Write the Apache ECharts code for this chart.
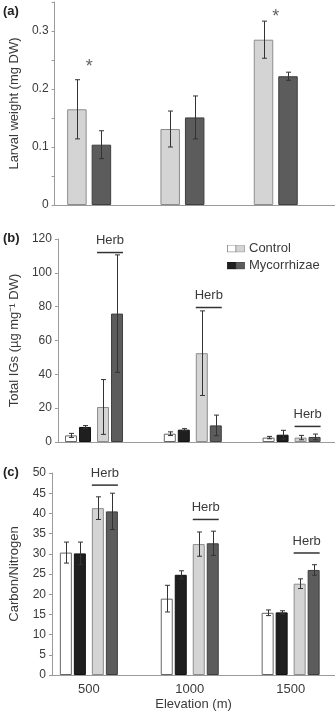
<!DOCTYPE html>
<html>
<head>
<meta charset="utf-8">
<script src="https://cdn.jsdelivr.net/npm/echarts@6/dist/echarts.min.js"></script>
<style>
html,body{margin:0;padding:0;background:#fff;}
#chart{width:335px;height:712px;}
</style>
</head>
<body>
<div id="chart"></div>
<script>
// ---------- data ----------
const elevations = [500, 1000, 1500];
const elevationTicks = [500, 1000, 1500];

// (a) Larval weight (mg DW), herbivory plants
const larvalControl = [0.165, 0.131, 0.285];
const larvalControlErr = [0.051, 0.031, 0.032];
const larvalMyco = [0.104, 0.151, 0.222];
const larvalMycoErr = [0.024, 0.037, 0.007];
const larvalStarX = [500, 1500];
const larvalStarY = [0.247, 0.333];

// (b) Total IGs (µg mg-1 DW)
const igControl = [3.9, 4.9, 2.6];
const igControlErr = [1.2, 1.1, 0.7];
const igMyco = [8.9, 7.3, 4.3];
const igMycoErr = [0.8, 0.6, 2.6];
const igControlHerb = [20.7, 52.5, 2.6];
const igControlHerbErr = [16.2, 25.0, 1.3];
const igMycoHerb = [75.9, 9.8, 3.0];
const igMycoHerbErr = [34.7, 6.1, 1.7];
const igHerbLevel = [112, 79.5, 9.2];

// (c) Carbon/Nitrogen
const cnControl = [30.3, 18.9, 15.4];
const cnControlErr = [2.6, 3.3, 0.7];
const cnMyco = [30.1, 24.8, 15.5];
const cnMycoErr = [2.8, 1.0, 0.4];
const cnControlHerb = [41.3, 32.4, 22.6];
const cnControlHerbErr = [2.8, 3.0, 1.2];
const cnMycoHerb = [40.5, 32.6, 26.0];
const cnMycoHerbErr = [4.5, 3.0, 1.3];
const cnHerbLevel = [47.0, 38.5, 30.2];

// ---------- styles ----------
const FONT = 'Liberation Sans, Arial, sans-serif';
const TXT = '#3a3a3a';
const AXIS = '#9a9a9a';
const styWhite = {color:'#ffffff', borderColor:'#666', borderWidth:1};
const styBlack = {color:'#1f1f1f', borderColor:'#111', borderWidth:1};
const styLight = {color:'#d4d4d4', borderColor:'#8c8c8c', borderWidth:1};
const styDark  = {color:'#5c5c5c', borderColor:'#3e3e3e', borderWidth:1};

// bar layout (mirrors ECharts column layout)
function layoutOffsets(widths, gapPct){
  let sum = 0;
  widths.forEach(w => sum += w*(1+gapPct));
  sum -= widths[widths.length-1]*gapPct;
  let off = -sum/2;
  return widths.map(w => { const c = {start:off, center:off+w/2, end:off+w}; off += w*(1+gapPct); return c; });
}
const WA = 19.5, GA = 5/19.5;
const offA = layoutOffsets([WA, WA], GA);
const WB = 12, GB = 1/6, SP = 24/7;
const offB = layoutOffsets([WB, WB, SP, WB, WB], GB);

const pairs = (vals) => elevations.map((e,i)=>[e, vals[i]]);
const triples = (vals, errs) => elevations.map((e,i)=>[e, vals[i], errs[i]]);

function errSeries(gi, vals, errs, offset){
  return {
    type:'custom', xAxisIndex:gi, yAxisIndex:gi, z:5, silent:true,
    data: triples(vals, errs),
    renderItem(params, api){
      const x = api.value(0), v = api.value(1), e = api.value(2);
      const t = api.coord([x, v+e]), b = api.coord([x, v-e]);
      const cx = Math.round(t[0] + offset) + 0.5;
      const s = {stroke:'#333', lineWidth:1};
      return {type:'group', children:[
        {type:'line', shape:{x1:cx, y1:t[1], x2:cx, y2:b[1]}, style:s},
        {type:'line', shape:{x1:cx-2.5, y1:t[1], x2:cx+2.5, y2:t[1]}, style:s},
        {type:'line', shape:{x1:cx-2.5, y1:b[1], x2:cx+2.5, y2:b[1]}, style:s}
      ]};
    }
  };
}
function herbSeries(gi, levels){
  return {
    type:'custom', xAxisIndex:gi, yAxisIndex:gi, z:6, silent:true,
    data: pairs(levels),
    renderItem(params, api){
      const p = api.coord([api.value(0), api.value(1)]);
      const x1 = p[0] + offB[3].start, x2 = p[0] + offB[4].end;
      return {type:'group', children:[
        {type:'line', shape:{x1:x1, y1:p[1], x2:x2, y2:p[1]}, style:{stroke:'#333', lineWidth:1.5}},
        {type:'text', x:(x1+x2)/2, y:p[1]-12, style:{text:'Herb', fill:TXT, font:'13px '+FONT, align:'center', verticalAlign:'middle'}}
      ]};
    }
  };
}
function barSeries(name, gi, data, sty, w, gap){
  return {type:'bar', name, xAxisIndex:gi, yAxisIndex:gi, data, barWidth:w, barGap:(gap*100)+'%', itemStyle:sty, silent:true, z:3};
}

function svgIcon(c1, s1, c2, s2){
  const svg = '<svg xmlns="http://www.w3.org/2000/svg" width="36" height="16">'+
    '<rect x="1" y="1" width="17" height="14" fill="'+c1+'" stroke="'+s1+'" stroke-width="1.5"/>'+
    '<rect x="18" y="1" width="17" height="14" fill="'+c2+'" stroke="'+s2+'" stroke-width="1.5"/></svg>';
  return 'image://data:image/svg+xml;charset=utf-8,' + encodeURIComponent(svg);
}

const grids = [
  {left:51, right:0, top:2, height:203},
  {left:51, right:0, top:239, height:203},
  {left:51, right:0, top:473, height:203}
];
const axisLineStyle = {show:true, lineStyle:{color:AXIS, width:1}};
function yAxis(gi, max, interval, name, fmt){
  return {type:'value', gridIndex:gi, min:0, max, interval,
    name, nameLocation:'middle', nameGap:31,
    nameTextStyle:{color:TXT, fontSize:13, fontFamily:FONT},
    axisLine:axisLineStyle, axisTick:{show:true, length:3, lineStyle:{color:AXIS}},
    axisLabel:{color:TXT, fontSize:12, fontFamily:FONT, margin:6, formatter:fmt},
    splitLine:{show:false}};
}
const xAxes = [
  {type:'value', gridIndex:0, min:314.8, max:1817.5, axisLine:axisLineStyle, axisTick:{show:false}, axisLabel:{show:false}, splitLine:{show:false}},
  {type:'value', gridIndex:1, min:317.3, max:1719.8, axisLine:axisLineStyle, axisTick:{show:false}, axisLabel:{show:false}, splitLine:{show:false}},
  {type:'value', gridIndex:2, min:317.3, max:1719.8, axisLine:axisLineStyle, axisTick:{show:false},
    axisLabel:{show:true, customValues:elevationTicks, formatter:v => String(Math.round(v)), color:TXT, fontSize:13, fontFamily:FONT, margin:8},
    splitLine:{show:false},
    name:'Elevation (m)', nameLocation:'middle', nameGap:23, nameTextStyle:{color:TXT, fontSize:13, fontFamily:FONT}}
];
const yAxes = [
  yAxis(0, 0.35, 0.05, 'Larval weight (mg DW)', v => {
    const k = v*10; if (Math.abs(k-Math.round(k))>1e-6 || v>0.31) return '';
    return v===0 ? '0' : (Math.round(k)/10).toFixed(1);
  }),
  yAxis(1, 120, 20, 'Total IGs (µg mg⁻¹ DW)', v => String(Math.round(v))),
  yAxis(2, 50, 5, 'Carbon/Nitrogen', v => String(Math.round(v)))
];

const series = [
  // (a)
  barSeries('Control (herbivory, a)', 0, pairs(larvalControl), styLight, WA, GA),
  barSeries('Mycorrhizae (herbivory, a)', 0, pairs(larvalMyco), styDark, WA, GA),
  errSeries(0, larvalControl, larvalControlErr, offA[0].center),
  errSeries(0, larvalMyco, larvalMycoErr, offA[1].center),
  {type:'scatter', xAxisIndex:0, yAxisIndex:0, symbolSize:0, silent:true, z:6,
   data: larvalStarX.map((x,i)=>[x, larvalStarY[i]]),
   label:{show:true, position:'inside', formatter:'*', color:TXT, fontSize:18, fontFamily:FONT, offset:[0,5]}},
  // (b)
  barSeries('Control', 1, pairs(igControl), styWhite, WB, GB),
  barSeries('Mycorrhizae', 1, pairs(igMyco), styBlack, WB, GB),
  barSeries('spacer b', 1, [], styWhite, SP, GB),
  barSeries('Control (herbivory)', 1, pairs(igControlHerb), styLight, WB, GB),
  barSeries('Mycorrhizae (herbivory)', 1, pairs(igMycoHerb), styDark, WB, GB),
  errSeries(1, igControl, igControlErr, offB[0].center),
  errSeries(1, igMyco, igMycoErr, offB[1].center),
  errSeries(1, igControlHerb, igControlHerbErr, offB[3].center),
  errSeries(1, igMycoHerb, igMycoHerbErr, offB[4].center),
  herbSeries(1, igHerbLevel),
  // (c)
  barSeries('Control C', 2, pairs(cnControl), styWhite, WB, GB),
  barSeries('Mycorrhizae C', 2, pairs(cnMyco), styBlack, WB, GB),
  barSeries('spacer c', 2, [], styWhite, SP, GB),
  barSeries('Control (herbivory) C', 2, pairs(cnControlHerb), styLight, WB, GB),
  barSeries('Mycorrhizae (herbivory) C', 2, pairs(cnMycoHerb), styDark, WB, GB),
  errSeries(2, cnControl, cnControlErr, offB[0].center),
  errSeries(2, cnMyco, cnMycoErr, offB[1].center),
  errSeries(2, cnControlHerb, cnControlHerbErr, offB[3].center),
  errSeries(2, cnMycoHerb, cnMycoHerbErr, offB[4].center),
  herbSeries(2, cnHerbLevel)
];

const chart = echarts.init(document.getElementById('chart'), null, {renderer:'canvas'});
chart.setOption({
  animation:false,
  backgroundColor:'#fff',
  grid:grids, xAxis:xAxes, yAxis:yAxes, series,
  legend:{
    left:222, top:237, orient:'vertical', itemWidth:18, itemHeight:8, itemGap:4,
    selectedMode:false,
    textStyle:{color:TXT, fontSize:13, fontFamily:FONT, padding:[0,0,0,-1]},
    data:[
      {name:'Control', icon:svgIcon('#ffffff','#777','#d4d4d4','#999')},
      {name:'Mycorrhizae', icon:svgIcon('#1f1f1f','#111','#5c5c5c','#444')}
    ]
  },
  graphic:[
    {type:'text', left:3, top:5, style:{text:'(a)', font:'bold 13px '+FONT, fill:'#222'}},
    {type:'text', left:3, top:232, style:{text:'(b)', font:'bold 13px '+FONT, fill:'#222'}},
    {type:'text', left:3, top:466, style:{text:'(c)', font:'bold 13px '+FONT, fill:'#222'}}
  ]
});
</script>
</body>
</html>
